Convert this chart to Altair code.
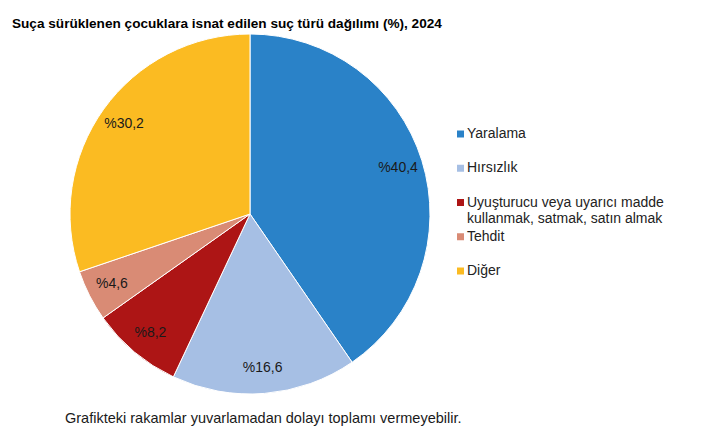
import altair as alt
import pandas as pd

categories = ["Yaralama", "Hırsızlık", "Uyuşturucu veya uyarıcı madde kullanmak, satmak, satın almak", "Tehdit", "Diğer"]
legend_text = ["Yaralama", "Hırsızlık", "Uyuşturucu veya uyarıcı madde\nkullanmak, satmak, satın almak", "Tehdit", "Diğer"]
values = [40.4, 16.6, 8.2, 4.6, 30.2]
labels = ["%40,4", "%16,6", "%8,2", "%4,6", "%30,2"]
colors = ["#2a82c8", "#a6bfe4", "#ad1515", "#d98b75", "#fbbb22"]
footnote = "Grafikteki rakamlar yuvarlamadan dolayı toplamı vermeyebilir."
title = "Suça sürüklenen çocuklara isnat edilen suç türü dağılımı (%), 2024"

df = pd.DataFrame({"cat": categories, "val": values, "lab": labels,
                   "leg": legend_text, "ord": list(range(len(categories)))})

W, H = 692, 393
cx, cy = 242, 178
R = 180

color = alt.Color("cat:N", scale=alt.Scale(domain=categories, range=colors), legend=None)

base = alt.Chart(df).encode(
    theta=alt.Theta("val:Q", stack=True),
    order=alt.Order("ord:Q"),
)

arcs = base.mark_arc(outerRadius=R, stroke="white", strokeWidth=1, x=cx, y=cy).encode(color=color)

text = base.mark_text(radius=155, x=cx, y=cy, font="Arial", fontSize=14, color="#1a1a1a").encode(
    text="lab:N"
)

ypos = alt.Y("cat:N", scale=alt.Scale(domain=categories, type="point", range=[98, 235], padding=0), axis=None)

leg_sym = alt.Chart(df).mark_square(size=49, opacity=1).encode(
    x=alt.value(452.5), y=ypos, color=color
)
leg_txt = alt.Chart(df).mark_text(
    align="left", baseline="top", dy=-7, font="Arial", fontSize=14, lineHeight=16,
    lineBreak="\n", color="#222222"
).encode(x=alt.value(459), y=ypos, text="leg:N")

note = alt.Chart(pd.DataFrame({"t": [footnote]})).mark_text(
    align="left", baseline="alphabetic", font="Arial", fontSize=14.5, color="#1a1a1a"
).encode(x=alt.value(57), y=alt.value(387), text="t:N")

chart = alt.layer(arcs, text, leg_sym, leg_txt, note).properties(
    width=W,
    height=H,
    autosize=alt.AutoSizeParams(type="none"),
    padding={"left": 0, "top": 28, "right": 0, "bottom": 0},
    title=alt.TitleParams(
        title,
        anchor="start",
        font="Arial",
        fontSize=13.6,
        fontWeight="bold",
        color="#000000",
        dx=4,
        offset=1,
    ),
).configure_view(stroke=None)

chart.save("out.html", embed_options={"renderer": "svg", "actions": False})
